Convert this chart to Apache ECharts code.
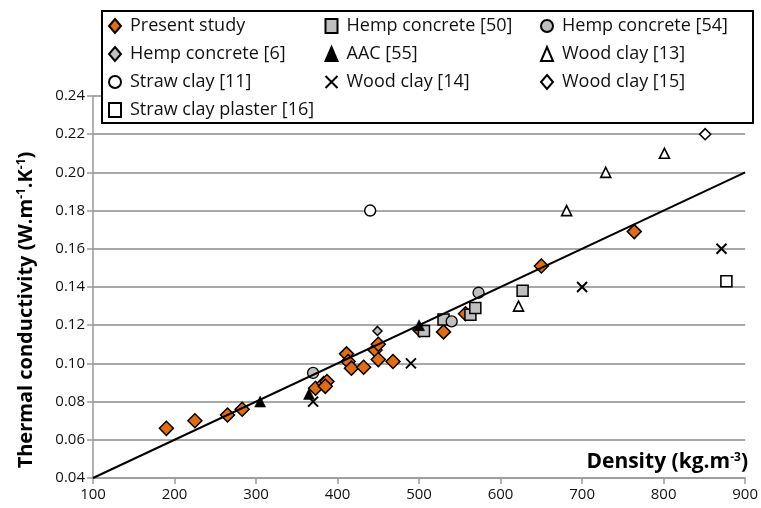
<!DOCTYPE html>
<html><head><meta charset="utf-8">
<script src="https://cdn.jsdelivr.net/npm/echarts@6/dist/echarts.min.js"></script>
<style>html,body{margin:0;padding:0;background:#fff}#c{width:761px;height:508px}</style>
</head><body><div id="c"></div>
<script>
const FONT = 'Open Sans';
// ---- data ----
const presentX = [190, 225, 265, 283, 373, 383, 387, 385, 411, 413, 417, 432, 446, 450, 450, 468, 530, 557, 501, 650, 764];
const presentY = [0.066, 0.070, 0.073, 0.076, 0.087, 0.0895, 0.0905, 0.088, 0.105, 0.101, 0.0975, 0.098, 0.107, 0.110, 0.102, 0.101, 0.1165, 0.126, 0.1175, 0.151, 0.169];
const hemp50X = [506, 530, 563, 569, 627];
const hemp50Y = [0.117, 0.123, 0.1255, 0.129, 0.138];
const hemp54X = [370, 540, 573];
const hemp54Y = [0.095, 0.122, 0.137];
const hemp6X = [449];
const hemp6Y = [0.117];
const aacX = [305, 365, 500];
const aacY = [0.080, 0.084, 0.120];
const wood13X = [622, 681, 729, 801];
const wood13Y = [0.130, 0.180, 0.200, 0.210];
const straw11X = [440];
const straw11Y = [0.180];
const wood14X = [370, 490, 700, 871];
const wood14Y = [0.080, 0.100, 0.140, 0.160];
const wood15X = [851];
const wood15Y = [0.220];
const plaster16X = [877];
const plaster16Y = [0.143];
const fitX = [100, 900];
const fitY = [0.04, 0.20];
const xTicks = [100, 200, 300, 400, 500, 600, 700, 800, 900];
const yTicks = [0.04, 0.06, 0.08, 0.10, 0.12, 0.14, 0.16, 0.18, 0.20, 0.22, 0.24];

const zip = (xs, ys) => xs.map((x, i) => [x, ys[i]]);
const ORANGE = '#E46C0A', GRAY = '#BFBFBF';
const XPATH = 'path://M0,0L10,10M10,0L0,10';

function sc(name, xs, ys, symbol, size, fill, bw) {
  return {
    name, type: 'scatter', data: zip(xs, ys), symbol, symbolSize: size,
    itemStyle: { color: fill, borderColor: '#000', borderWidth: bw, opacity: 1 },
    emphasis: { disabled: true }
  };
}

const series = [
  sc('Present study', presentX, presentY, 'diamond', 14, ORANGE, 1.5),
  sc('Hemp concrete [50]', hemp50X, hemp50Y, 'rect', 11, GRAY, 1.5),
  sc('Hemp concrete [54]', hemp54X, hemp54Y, 'circle', 11, GRAY, 1.3),
  sc('Hemp concrete [6]', hemp6X, hemp6Y, 'diamond', 9, GRAY, 1.5),
  sc('AAC [55]', aacX, aacY, 'triangle', 11, '#000', 0.5),
  sc('Wood clay [13]', wood13X, wood13Y, 'triangle', 10, '#fff', 1.6),
  sc('Straw clay [11]', straw11X, straw11Y, 'circle', 11, '#fff', 1.5),
  sc('Wood clay [14]', wood14X, wood14Y, XPATH, 10, 'none', 2),
  sc('Wood clay [15]', wood15X, wood15Y, 'diamond', 11, '#fff', 1.6),
  sc('Straw clay plaster [16]', plaster16X, plaster16Y, 'rect', 11, '#fff', 1.6),
  { name: 'fit', type: 'line', data: zip(fitX, fitY), symbol: 'none', z: 5,
    lineStyle: { color: '#000', width: 2 }, emphasis: { disabled: true } }
];

function legend(names, left) {
  return {
    data: names, orient: 'vertical', left: left, top: 17, padding: 0,
    itemWidth: 12, itemHeight: 14, itemGap: 10, selectedMode: false,
    textStyle: { fontFamily: FONT, fontSize: 18, color: '#111', padding: [0, 0, 0, 4] }
  };
}

const chart = echarts.init(document.getElementById('c'), null, { renderer: 'canvas' });
chart.setOption({
  animation: false,
  backgroundColor: '#fff',
  grid: { left: 93, right: 13, top: 96, bottom: 30 },
  xAxis: {
    type: 'value', min: xTicks[0], max: xTicks[xTicks.length - 1], interval: 100,
    axisLine: { lineStyle: { color: '#9a9a9a', width: 1.5 } },
    axisTick: { show: true, length: 6, lineStyle: { color: '#9a9a9a', width: 1.5 } },
    splitLine: { show: false },
    axisLabel: { fontFamily: FONT, fontSize: 15, color: '#111', margin: 9 }
  },
  yAxis: {
    type: 'value', min: yTicks[0], max: yTicks[yTicks.length - 1], interval: 0.02,
    axisLine: { show: true, lineStyle: { color: '#9a9a9a', width: 1.5 } },
    axisTick: { show: true, length: 6, lineStyle: { color: '#9a9a9a', width: 1.5 } },
    splitLine: { show: true, lineStyle: { color: '#a8a8a8', width: 2 } },
    axisLabel: { fontFamily: FONT, fontSize: 15, color: '#111', margin: 8,
      formatter: v => v.toFixed(2) }
  },
  legend: [
    legend(['Present study', 'Hemp concrete [6]', 'Straw clay [11]', 'Straw clay plaster [16]'], 108),
    legend(['Hemp concrete [50]', 'AAC [55]', 'Wood clay [14]'], 323),
    legend(['Hemp concrete [54]', 'Wood clay [13]', 'Wood clay [15]'], 540)
  ],
  graphic: [
    { type: 'rect', z: 3, shape: { x: 102, y: 11, width: 651, height: 112 },
      style: { fill: '#fff', stroke: '#000', lineWidth: 2 } },
    { type: 'text', z: 3, x: 26, y: 310, rotation: Math.PI / 2,
      style: {
        text: '{b|Thermal conductivity (W.m}{s|-1}{b|.K}{s|-1}{b|)}',
        align: 'center', verticalAlign: 'middle',
        rich: {
          b: { fontFamily: FONT, fontWeight: 'bold', fontSize: 20, fill: '#000' },
          s: { fontFamily: FONT, fontWeight: 'bold', fontSize: 12, fill: '#000', verticalAlign: 'top', padding: [0, 0, 8, 0] }
        }
      } },
    { type: 'text', z: 3, x: 748, y: 462,
      style: {
        text: '{b|Density (kg.m}{s|-3}{b|)}',
        align: 'right', verticalAlign: 'middle',
        rich: {
          b: { fontFamily: FONT, fontWeight: 'bold', fontSize: 21, fill: '#000' },
          s: { fontFamily: FONT, fontWeight: 'bold', fontSize: 12, fill: '#000', verticalAlign: 'top', padding: [0, 0, 8, 0] }
        }
      } }
  ],
  series
});
</script></body></html>
